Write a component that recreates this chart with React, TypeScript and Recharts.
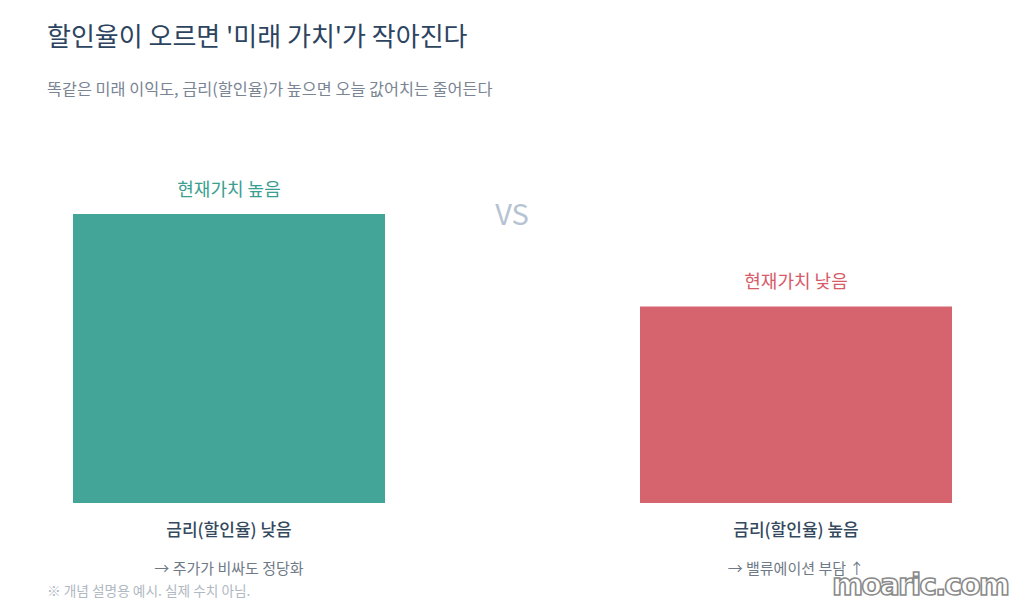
import React from 'react';
import { BarChart, Bar, XAxis, YAxis, Cell, LabelList } from 'recharts';

const categories = ['금리(할인율) 낮음', '금리(할인율) 높음'];
const notes = ['→ 주가가 비싸도 정당화', '→ 밸류에이션 부담 ↑'];
const presentValues = [100, 68];
const valueLabels = ['현재가치 높음', '현재가치 낮음'];

const barColors = ['#42a597', '#d6646f'];
const labelColors = ['#3a9e90', '#d65a68'];

const FONT = '"Noto Sans CJK KR", "Noto Sans", sans-serif';

const data = categories.map((name, i) => ({
  name,
  note: notes[i],
  value: presentValues[i],
  label: valueLabels[i],
}));

const CategoryTick = (props: any) => {
  const { x, y, payload, index } = props;
  return (
    <g>
      <text x={x} y={y + 25} textAnchor="middle" fontSize={17} fontWeight={500} fill="#34495e" fontFamily={FONT}>
        {payload.value}
      </text>
      <text x={x} y={y + 62.5} textAnchor="middle" fontSize={15} fill="#6f7a87" fontFamily={FONT}>
        {notes[index]}
      </text>
    </g>
  );
};

const TopLabel = (props: any) => {
  const { x, y, width, index } = props;
  return (
    <text x={x + width / 2} y={y - 18} textAnchor="middle" fontSize={18} fill={labelColors[index]} fontFamily={FONT}>
      {valueLabels[index]}
    </text>
  );
};

const App: React.FC = () => {
  return (
    <div style={{ position: 'absolute', left: 0, top: 0, width: 1024, height: 610, background: '#fff', overflow: 'hidden', fontFamily: FONT }}>
      <BarChart
        width={1024}
        height={610}
        data={data}
        margin={{ top: 214, right: -55.5, left: -54.5, bottom: 47 }}
        barCategoryGap={127.5}
      >
        <XAxis dataKey="name" axisLine={false} tickLine={false} height={60} interval={0} tick={<CategoryTick />} />
        <YAxis hide domain={[0, 100]} />
        <Bar dataKey="value" isAnimationActive={false}>
          {data.map((d, i) => (
            <Cell key={d.name} fill={barColors[i]} />
          ))}
          <LabelList dataKey="label" content={<TopLabel />} />
        </Bar>
      </BarChart>

      <svg width={1024} height={610} style={{ position: 'absolute', left: 0, top: 0, pointerEvents: 'none' }}>
        <text x={47} y={46} fontSize={26} fontWeight={400} fill="#2c4460" fontFamily={FONT}>
          할인율이 오르면 '미래 가치'가 작아진다
        </text>
        <text x={47} y={95} fontSize={16.3} fill="#7a8594" fontFamily={FONT}>
          똑같은 미래 이익도, 금리(할인율)가 높으면 오늘 값어치는 줄어든다
        </text>
        <text x={512} y={225} textAnchor="middle" fontSize={29} fill="#b6c3d2" fontFamily={FONT}>
          VS
        </text>
        <text x={47} y={596} fontSize={13.7} fill="#b0b8c2" fontFamily={FONT}>
          ※ 개념 설명용 예시. 실제 수치 아님.
        </text>
        <text
          x={832}
          y={595}
          fontSize={30}
          fontWeight={700}
          letterSpacing={-2}
          fill="#ffffff"
          stroke="#8a8a8a"
          strokeWidth={1.6}
          fontFamily='"DejaVu Sans", sans-serif'
        >
          moaric.com
        </text>
      </svg>
    </div>
  );
};

export default App;
